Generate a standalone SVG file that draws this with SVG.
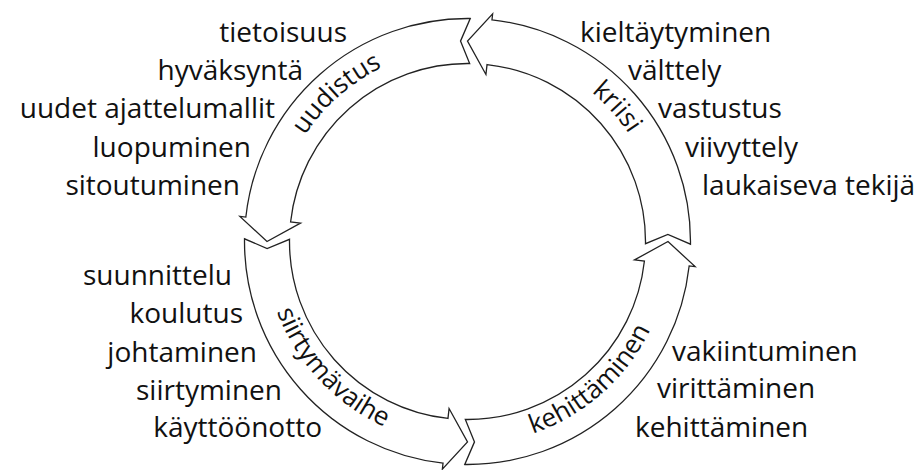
<svg xmlns="http://www.w3.org/2000/svg" xmlns:xlink="http://www.w3.org/1999/xlink" width="921" height="470" viewBox="0 0 921 470">
<style>
  .arrow { fill: #ffffff; stroke: #222222; stroke-width: 1.3; stroke-linejoin: miter; }
  .t { font-family: "Open Sans", "Liberation Sans", sans-serif; font-size: 28px; fill: #111111; }
  .l { text-anchor: end; }
  .r { text-anchor: start; }
  .band { font-family: "Open Sans", "Liberation Sans", sans-serif; font-size: 26px; fill: #111111; text-anchor: middle; }
</style>
<defs>
  <path id="arrow" d="M 690.48 244.22 A 223 223 0 0 0 491.97 19.85 L 492.63 13.88 L 467.5 41.0 L 485.93 74.51 L 487.03 64.58 A 178 178 0 0 1 645.49 243.67 L 667.88 234.5 Z"/>
  <path id="p-krisi" d="M 427.17 51.74 A 194 194 0 0 1 652.00 301.45"/>
  <path id="p-uudistus" d="M 277.40 280.18 A 194 194 0 0 1 529.06 57.53"/>
  <path id="p-siirtyma" d="M 273.37 182.15 A 203 203 0 0 0 513.16 439.30"/>
  <path id="p-kehitt" d="M 403.09 434.01 A 203 203 0 0 0 666.42 201.03"/>
</defs>
<rect x="0" y="0" width="921" height="470" fill="#ffffff"/>
<g id="connectors"></g>
<g id="krisi">
  <use xlink:href="#arrow" href="#arrow" class="arrow"/>
  <text class="band"><textPath xlink:href="#p-krisi" href="#p-krisi" startOffset="50%">kriisi</textPath></text>
</g>
<g id="uudistus">
  <use xlink:href="#arrow" href="#arrow" class="arrow" transform="rotate(-90 467.5 241.5)"/>
  <text class="band"><textPath xlink:href="#p-uudistus" href="#p-uudistus" startOffset="50%">uudistus</textPath></text>
</g>
<g id="siirtymavaihe">
  <use xlink:href="#arrow" href="#arrow" class="arrow" transform="rotate(180 467.5 241.5)"/>
  <text class="band"><textPath xlink:href="#p-siirtyma" href="#p-siirtyma" startOffset="50%">siirtymävaihe</textPath></text>
</g>
<g id="kehittaminen">
  <use xlink:href="#arrow" href="#arrow" class="arrow" transform="rotate(90 467.5 241.5)"/>
  <text class="band"><textPath xlink:href="#p-kehitt" href="#p-kehitt" startOffset="50%">kehittäminen</textPath></text>
</g>
<g id="list-uudistus" class="t l">
  <text x="347" y="42">tietoisuus</text>
  <text x="303" y="80">hyväksyntä</text>
  <text x="275" y="118">uudet ajattelumallit</text>
  <text x="251" y="157">luopuminen</text>
  <text x="240" y="195">sitoutuminen</text>
</g>
<g id="list-krisi" class="t r">
  <text x="580" y="42">kieltäytyminen</text>
  <text x="628" y="80">välttely</text>
  <text x="658" y="118">vastustus</text>
  <text x="685" y="157">viivyttely</text>
  <text x="702" y="195">laukaiseva tekijä</text>
</g>
<g id="list-siirtyma" class="t l">
  <text x="232" y="285">suunnittelu</text>
  <text x="243" y="323">koulutus</text>
  <text x="257" y="362">johtaminen</text>
  <text x="282" y="400">siirtyminen</text>
  <text x="322" y="437">käyttöönotto</text>
</g>
<g id="list-kehitt" class="t r">
  <text x="672" y="361">vakiintuminen</text>
  <text x="657" y="398">virittäminen</text>
  <text x="635" y="437">kehittäminen</text>
</g>
</svg>
